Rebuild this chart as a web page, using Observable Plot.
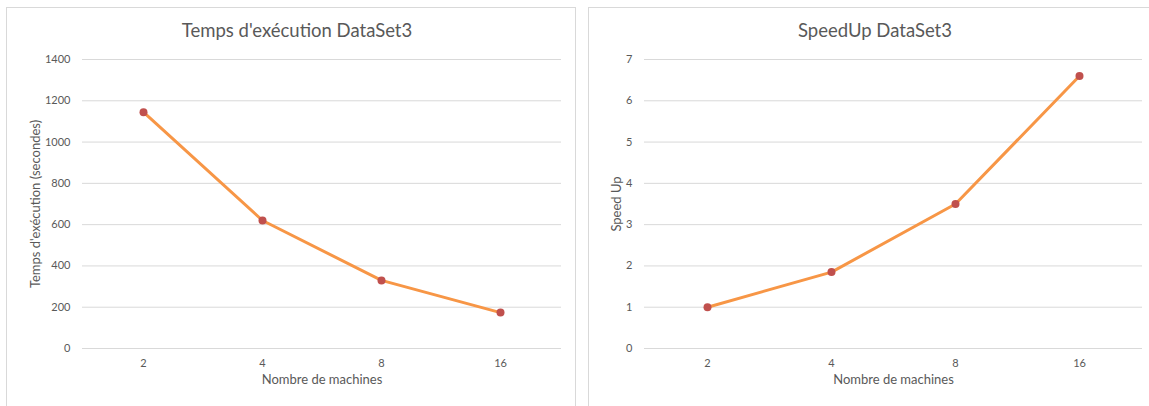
<!DOCTYPE html>
<html>
<head>
<meta charset="utf-8">
<script src="https://cdn.jsdelivr.net/npm/d3@7"></script>
<script src="https://cdn.jsdelivr.net/npm/@observablehq/plot@0.6"></script>
<style>
  body { margin: 0; background: #fff; width: 1149px; height: 406px; overflow: hidden; position: relative; font-family: Lato, "Open Sans", sans-serif; }
  .panel { position: absolute; border: 1px solid #d9d9d9; background: #fff; }
  .title { position: absolute; transform: translateX(-50%); white-space: nowrap; color: #595959; font-size: 18.5px; line-height: 1; }
  .chart { position: absolute; top: 0; }
</style>
</head>
<body>
<div class="panel" style="left:6px; top:7px; width:568px; height:420px;"></div>
<div class="panel" style="left:588px; top:7px; width:600px; height:420px;"></div>
<div class="title" style="left:297px; top:21px;">Temps d'exécution DataSet3</div>
<div class="title" style="left:875px; top:21px;">SpeedUp DataSet3</div>
<div id="left" class="chart" style="left:0px;"></div>
<div id="right" class="chart" style="left:575px;"></div>
<script>
// Number of machines used for each run
const machines = ["2", "4", "8", "16"];
// Execution time in seconds for DataSet3
const executionTime = [1145, 620, 330, 174];
// Speed-up relative to the 2-machine run
const speedUp = [1, 1.85, 3.5, 6.6];

const xLabel = "Nombre de machines";
const timeLabel = "Temps d'exécution (secondes)";
const speedLabel = "Speed Up";

const lineColor = "#f79646";
const dotColor = "#c0504d";
const textColor = "#595959";
const gridColor = "#d9d9d9";

function lineChart({values, yDomain, yTicks, yLabel, width, marginLeft, marginRight, yLabelDx}) {
  const data = machines.map((m, i) => ({m, v: values[i]}));
  return Plot.plot({
    width,
    height: 406,
    marginTop: 59,
    marginBottom: 58,
    marginLeft,
    marginRight,
    style: {background: "transparent", fontFamily: "Lato, 'Open Sans', sans-serif", fontSize: "11px", color: textColor, overflow: "visible"},
    x: {type: "point", domain: machines, padding: 0.5, axis: null},
    y: {domain: yDomain, axis: null},
    marks: [
      Plot.ruleY(yTicks, {stroke: gridColor, strokeWidth: 1}),
      Plot.axisY(yTicks, {tickSize: 0, tickPadding: 12, label: null, fill: textColor, tickFormat: (d) => String(d)}),
      Plot.axisX({tickSize: 0, tickPadding: 11, label: null, fill: textColor}),
      Plot.text([xLabel], {frameAnchor: "bottom", dy: 35, fontSize: 13, fill: textColor}),
      Plot.text([yLabel], {frameAnchor: "left", textAnchor: "middle", rotate: -90, dx: yLabelDx, fontSize: 13, fill: textColor}),
      Plot.line(data, {x: "m", y: "v", stroke: lineColor, strokeWidth: 3}),
      Plot.dot(data, {x: "m", y: "v", r: 4, fill: dotColor, stroke: "none"})
    ]
  });
}

document.getElementById("left").append(lineChart({
  values: executionTime,
  yDomain: [0, 1400],
  yTicks: d3.range(0, 1401, 200),
  yLabel: timeLabel,
  width: 575,
  marginLeft: 82,
  marginRight: 14,
  yLabelDx: -47
}));

document.getElementById("right").append(lineChart({
  values: speedUp,
  yDomain: [0, 7],
  yTicks: d3.range(0, 8, 1),
  yLabel: speedLabel,
  width: 574,
  marginLeft: 69,
  marginRight: 7,
  yLabelDx: -28
}));
</script>
</body>
</html>
